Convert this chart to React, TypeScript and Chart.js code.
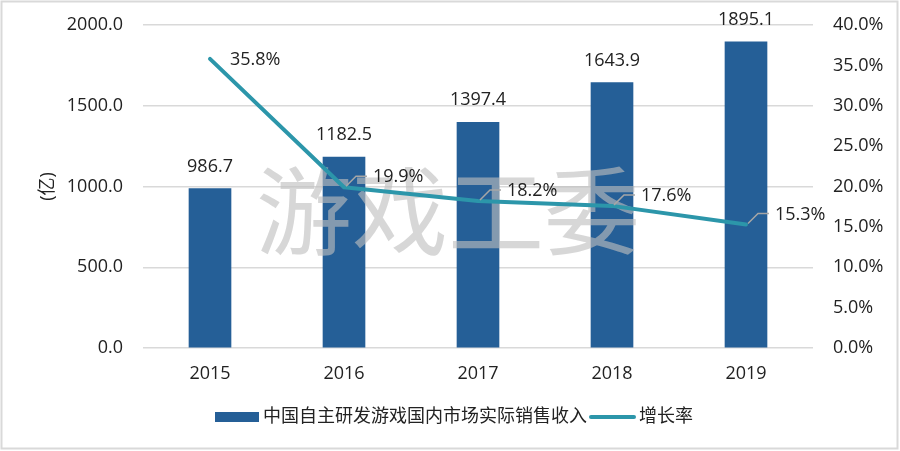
import React, { useEffect, useRef } from "react";
import { Chart, registerables } from "chart.js";

Chart.register(...registerables);

const categories = ["2015", "2016", "2017", "2018", "2019"];
const revenue = [986.7, 1182.5, 1397.4, 1643.9, 1895.1];
const growth = [35.8, 19.9, 18.2, 17.6, 15.3];
const revenueLabel = "中国自主研发游戏国内市场实际销售收入";
const growthLabel = "增长率";
const axisTitle = "(亿)";
const watermark = "游戏工委";

const BAR_COLOR = "#255f97";
const LINE_COLOR = "#2c96aa";
const TEXT_COLOR = "#222222";
const FONT = '"Open Sans", "Noto Sans CJK SC", sans-serif';

const watermarkPlugin = {
  id: "watermark",
  afterDatasetDraw(chart: any, args: any) {
    if (args.index !== 0) return;
    const ctx = chart.ctx;
    const a = chart.chartArea;
    ctx.save();
    ctx.font = `96px "Noto Sans CJK SC", sans-serif`;
    ctx.fillStyle = "rgba(190,190,190,0.62)";
    ctx.textAlign = "center";
    ctx.textBaseline = "middle";
    ctx.fillText(watermark, (a.left + a.right) / 2 - 30, 211);
    ctx.restore();
  },
};

const labelsPlugin = {
  id: "valueLabels",
  afterDatasetsDraw(chart: any) {
    const ctx = chart.ctx;
    ctx.save();
    ctx.font = `18px ${FONT}`;
    ctx.fillStyle = TEXT_COLOR;
    const barMeta = chart.getDatasetMeta(0);
    ctx.textAlign = "center";
    ctx.textBaseline = "middle";
    barMeta.data.forEach((el: any, i: number) => {
      ctx.fillText(revenue[i].toFixed(1), el.x, el.y - 22);
    });
    const lineMeta = chart.getDatasetMeta(1);
    ctx.textAlign = "left";
    lineMeta.data.forEach((el: any, i: number) => {
      const txt = growth[i].toFixed(1) + "%";
      if (i === 0) {
        ctx.fillText(txt, el.x + 20, el.y + 1);
      } else {
        ctx.save();
        ctx.strokeStyle = "#a6a6a6";
        ctx.lineWidth = 1.5;
        ctx.beginPath();
        ctx.moveTo(el.x + 2, el.y - 1);
        ctx.lineTo(el.x + 12, el.y - 11);
        ctx.lineTo(el.x + 23, el.y - 11);
        ctx.stroke();
        ctx.restore();
        ctx.fillText(txt, el.x + 29, el.y - 10);
      }
    });
    ctx.restore();
  },
  afterDraw(chart: any) {
    const ctx = chart.ctx;
    ctx.save();
    const y = 417;
    let x = 215;
    ctx.fillStyle = BAR_COLOR;
    ctx.fillRect(x, y - 5, 44, 10);
    x += 48;
    ctx.font = `18px ${FONT}`;
    ctx.fillStyle = TEXT_COLOR;
    ctx.textAlign = "left";
    ctx.textBaseline = "middle";
    ctx.fillText(revenueLabel, x, y);
    x += ctx.measureText(revenueLabel).width + 2;
    ctx.strokeStyle = LINE_COLOR;
    ctx.lineWidth = 4;
    ctx.lineCap = "round";
    ctx.beginPath();
    ctx.moveTo(x + 2, y);
    ctx.lineTo(x + 45, y);
    ctx.stroke();
    x += 50;
    ctx.fillText(growthLabel, x, y);
    ctx.strokeStyle = "#d9d9d9";
    ctx.lineWidth = 2;
    ctx.strokeRect(1.5, 1.5, 896, 447);
    ctx.restore();
  },
};

export default function App() {
  const ref = useRef<HTMLCanvasElement | null>(null);
  useEffect(() => {
    document.body.style.margin = "0";
    Chart.defaults.font.family = FONT;
    const chart = new Chart(ref.current as HTMLCanvasElement, {
      type: "bar",
      data: {
        labels: categories,
        datasets: [
          {
            type: "bar",
            label: revenueLabel,
            data: revenue,
            backgroundColor: BAR_COLOR,
            barThickness: 42,
            yAxisID: "y",
            order: 2,
          },
          {
            type: "line",
            label: growthLabel,
            data: growth,
            borderColor: LINE_COLOR,
            backgroundColor: LINE_COLOR,
            borderWidth: 4,
            pointRadius: 0,
            tension: 0,
            borderJoinStyle: "round",
            borderCapStyle: "round",
            yAxisID: "y1",
            order: 1,
          },
        ] as any,
      },
      options: {
        animation: false,
        responsive: true,
        maintainAspectRatio: false,
        layout: { padding: { top: 25, left: 30, right: 0, bottom: 0 } },
        plugins: {
          legend: { display: false },
          tooltip: { enabled: false },
        },
        scales: {
          x: {
            grid: { display: false, drawTicks: false },
            border: { display: false },
            ticks: { color: TEXT_COLOR, font: { size: 18 }, padding: 15 },
            afterFit(scale: any) {
              scale.height = 103;
              scale.paddingLeft = 0;
              scale.paddingRight = 0;
            },
          },
          y: {
            position: "left",
            min: 0,
            max: 2000,
            ticks: {
              stepSize: 500,
              color: TEXT_COLOR,
              font: { size: 18 },
              padding: 20,
              callback: (v: any) => Number(v).toFixed(1),
            },
            grid: { color: "#d9d9d9", lineWidth: 1.5, drawTicks: false },
            border: { display: false },
            title: {
              display: true,
              text: axisTitle,
              color: TEXT_COLOR,
              font: { size: 18 },
              padding: { top: 7, bottom: 0 },
            },
            afterFit(scale: any) {
              scale.width = 113;
              scale.paddingTop = 0;
              scale.paddingBottom = 0;
            },
          },
          y1: {
            position: "right",
            min: 0,
            max: 40,
            ticks: {
              stepSize: 5,
              color: TEXT_COLOR,
              font: { size: 18 },
              padding: 20,
              callback: (v: any) => Number(v).toFixed(1) + "%",
            },
            grid: { display: false, drawTicks: false },
            border: { display: false },
            afterFit(scale: any) {
              scale.width = 87;
              scale.paddingTop = 0;
              scale.paddingBottom = 0;
            },
          },
        },
      } as any,
      plugins: [watermarkPlugin, labelsPlugin],
    });
    return () => chart.destroy();
  }, []);
  return (
    <div style={{ width: 900, height: 451, position: "relative" }}>
      <canvas ref={ref} />
    </div>
  );
}
